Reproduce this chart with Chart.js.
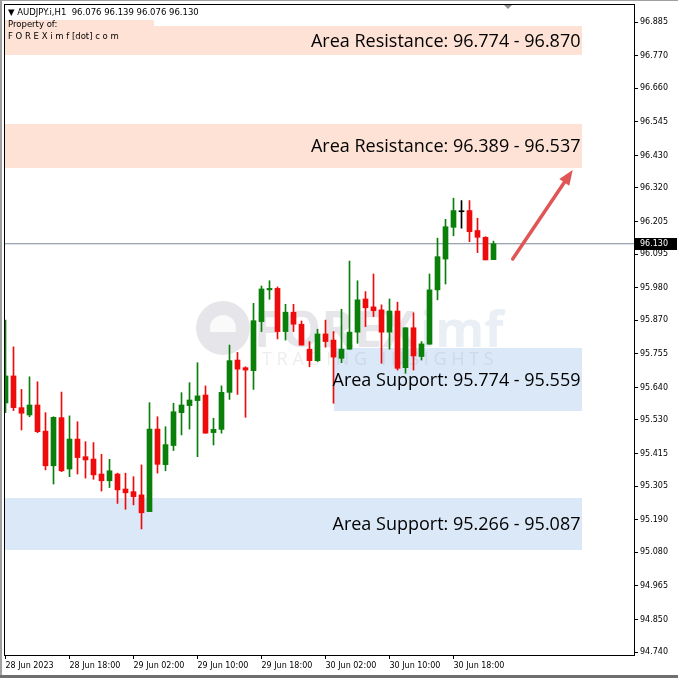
<!DOCTYPE html>
<html>
<head>
<meta charset="utf-8">
<script src="https://cdn.jsdelivr.net/npm/chart.js@4.4.0/dist/chart.umd.min.js"></script>
<style>
  html, body { margin: 0; padding: 0; background: #fff; }
</style>
</head>
<body>
<canvas id="myChart" width="678" height="678"></canvas>
<script>
// AUDJPY.i H1, 28 Jun 2023 10:00 .. 30 Jun 2023 23:00
const opens = [95.588, 95.680, 95.572, 95.547, 95.581, 95.492, 95.374, 95.538, 95.363, 95.465,
  95.405, 95.397, 95.346, 95.323, 95.346, 95.295, 95.286, 95.275, 95.218, 95.499,
  95.378, 95.443, 95.555, 95.579, 95.596, 95.615, 95.487, 95.498, 95.624, 95.734,
  95.708, 95.698, 95.865, 95.973, 95.978, 95.831, 95.897, 95.856, 95.771, 95.732,
  95.823, 95.802, 95.740, 95.771, 95.829, 95.942, 95.915, 95.905, 95.829, 95.901,
  95.708, 95.844, 95.746, 95.788, 95.973, 96.078, 96.186, 96.239, 96.243, 96.175,
  96.152, 96.076];
const highs = [95.870, 95.779, 95.634, 95.677, 95.660, 95.555, 95.541, 95.625, 95.544, 95.524,
  95.456, 95.453, 95.413, 95.396, 95.349, 95.349, 95.337, 95.377, 95.589, 95.541,
  95.507, 95.587, 95.623, 95.657, 95.725, 95.646, 95.536, 95.646, 95.785, 95.760,
  95.711, 95.927, 95.986, 96.004, 95.983, 95.924, 95.924, 95.867, 95.797, 95.839,
  95.870, 95.831, 95.907, 96.071, 96.004, 95.967, 96.027, 95.922, 95.942, 95.931,
  95.844, 95.895, 95.797, 96.027, 96.149, 96.213, 96.285, 96.277, 96.277, 96.217,
  96.154, 96.139];
const lows = [95.555, 95.562, 95.496, 95.541, 95.487, 95.360, 95.312, 95.354, 95.337, 95.346,
  95.332, 95.328, 95.288, 95.300, 95.246, 95.226, 95.241, 95.159, 95.218, 95.349,
  95.357, 95.426, 95.479, 95.499, 95.405, 95.485, 95.445, 95.485, 95.600, 95.617,
  95.539, 95.634, 95.831, 95.941, 95.806, 95.802, 95.831, 95.785, 95.711, 95.729,
  95.778, 95.587, 95.725, 95.771, 95.791, 95.848, 95.882, 95.723, 95.771, 95.700,
  95.689, 95.700, 95.734, 95.788, 95.939, 95.993, 96.157, 96.183, 96.137, 96.100,
  96.075, 96.076];
const closes = [95.680, 95.572, 95.553, 95.581, 95.490, 95.374, 95.539, 95.357, 95.465, 95.402,
  95.394, 95.343, 95.323, 95.357, 95.292, 95.282, 95.269, 95.214, 95.499, 95.379,
  95.446, 95.558, 95.581, 95.598, 95.612, 95.485, 95.498, 95.624, 95.732, 95.703,
  95.700, 95.868, 95.976, 95.978, 95.831, 95.897, 95.856, 95.785, 95.732, 95.823,
  95.797, 95.744, 95.771, 95.829, 95.939, 95.912, 95.902, 95.829, 95.901, 95.706,
  95.844, 95.748, 95.789, 95.973, 96.086, 96.188, 96.243, 96.239, 96.171, 96.152,
  96.075, 96.130];

const xTickBars = [0, 8, 16, 24, 32, 40, 48, 56];
const xTickLabels = ['28 Jun 2023', '28 Jun 18:00', '29 Jun 02:00', '29 Jun 10:00',
  '29 Jun 18:00', '30 Jun 02:00', '30 Jun 10:00', '30 Jun 18:00'];
const yTicks = [96.885, 96.770, 96.660, 96.545, 96.430, 96.320, 96.205, 96.095, 95.980, 95.870,
  95.755, 95.640, 95.530, 95.415, 95.305, 95.190, 95.080, 94.965, 94.850, 94.740];

// support / resistance areas
const zoneHigh = [96.870, 96.537, 95.774, 95.266];
const zoneLow = [96.774, 96.389, 95.559, 95.087];
const zoneStart = [-1, -1, 41, -1];
const zoneEnd = 72;
const zoneLabels = ['Area Resistance: 96.774 - 96.870', 'Area Resistance: 96.389 - 96.537',
  'Area Support: 95.774 - 95.559', 'Area Support: 95.266 - 95.087'];

const arrowFrom = [63.4, 96.078];
const arrowTo = [70.9, 96.381];

const lastPrice = closes[closes.length - 1];
const headerText = '\u25BC AUDJPY.i,H1  96.076 96.139 96.076 96.130';

const green = '#0a7f0a';
const red = '#ee0b0b';
const pink = '#fde2d5';
const blue = '#dae8f7';

const candleColors = opens.map((o, i) => closes[i] > o ? green : (closes[i] < o ? red : '#000'));

function noPadding(s) {
  s.paddingTop = 0;
  s.paddingBottom = 0;
  s.paddingLeft = 0;
  s.paddingRight = 0;
}

const chartPlugin = {
  id: 'mt4',
  beforeDatasetsDraw(chart) {
    const { ctx, chartArea: a, scales: { x, y } } = chart;
    ctx.save();
    ctx.beginPath();
    ctx.rect(a.left, a.top, a.right - a.left, a.bottom - a.top);
    ctx.clip();
    zoneHigh.forEach((hi, i) => {
      const x0 = Math.round(Math.max(a.left, x.getPixelForValue(zoneStart[i])));
      const x1 = Math.round(x.getPixelForValue(zoneEnd));
      const y0 = Math.round(y.getPixelForValue(hi));
      const y1 = Math.round(y.getPixelForValue(zoneLow[i]));
      ctx.fillStyle = i < 2 ? pink : blue;
      ctx.fillRect(x0, y0, x1 - x0, y1 - y0);
    });
    // pink band behind the "Property of" lines
    ctx.fillStyle = pink;
    ctx.fillRect(a.left, 20, 150, 8);
    // watermark
    ctx.globalAlpha = 0.22;
    ctx.fillStyle = '#8e8e9e';
    ctx.beginPath();
    ctx.arc(223, 328, 27, 0, Math.PI * 2);
    ctx.fill();
    ctx.globalAlpha = 1;
    ctx.fillStyle = 'rgba(255,255,255,0.8)';
    ctx.beginPath();
    ctx.arc(223, 328, 13, Math.PI * 0.9, Math.PI * 2.1);
    ctx.fill();
    ctx.globalAlpha = 0.22;
    ctx.fillStyle = '#8e8e9e';
    ctx.font = 'bold 50px "Open Sans"';
    ctx.textBaseline = 'alphabetic';
    ctx.textAlign = 'left';
    ctx.fillText('FOREX', 254, 347);
    ctx.fillStyle = '#9fb4d4';
    ctx.fillText('imf', 420, 347);
    ctx.globalAlpha = 0.16;
    ctx.fillStyle = '#8e8e9e';
    ctx.font = '18px "Open Sans"';
    ctx.fillText('T R A D I N G   I N S I G H T S', 262, 365);
    ctx.restore();
  },
  afterDatasetsDraw(chart) {
    const { ctx, scales: { x, y } } = chart;
    ctx.save();
    // zone labels
    ctx.fillStyle = '#000';
    ctx.font = '18px "Open Sans"';
    ctx.textAlign = 'right';
    ctx.textBaseline = 'middle';
    zoneHigh.forEach((hi, i) => {
      const xm = x.getPixelForValue(zoneEnd) - 1;
      const ym = (y.getPixelForValue(hi) + y.getPixelForValue(zoneLow[i])) / 2 + 1;
      ctx.fillText(zoneLabels[i], xm, ym);
    });
    // arrow
    const x0 = x.getPixelForValue(arrowFrom[0]), y0 = y.getPixelForValue(arrowFrom[1]);
    const x1 = x.getPixelForValue(arrowTo[0]), y1 = y.getPixelForValue(arrowTo[1]);
    const ang = Math.atan2(y1 - y0, x1 - x0);
    const c = Math.cos(ang), s = Math.sin(ang);
    ctx.strokeStyle = '#e05555';
    ctx.fillStyle = '#e05555';
    ctx.lineWidth = 3.5;
    ctx.lineCap = 'round';
    ctx.beginPath();
    ctx.moveTo(x0, y0);
    ctx.lineTo(x1 - 10 * c, y1 - 10 * s);
    ctx.stroke();
    ctx.beginPath();
    ctx.moveTo(x1, y1);
    ctx.lineTo(x1 - 15 * c + 6 * s, y1 - 15 * s - 6 * c);
    ctx.lineTo(x1 - 15 * c - 6 * s, y1 - 15 * s + 6 * c);
    ctx.closePath();
    ctx.fill();
    ctx.restore();
  },
  afterDraw(chart) {
    const { ctx, chartArea: a, scales: { y } } = chart;
    ctx.save();
    // chart frame
    ctx.strokeStyle = '#000';
    ctx.lineWidth = 1;
    ctx.strokeRect(a.left + 0.5, a.top + 0.5, a.right - a.left, a.bottom - a.top);
    // window frame
    ctx.fillStyle = '#a0a0a0';
    ctx.fillRect(0, 0, 678, 1);
    ctx.fillRect(0, 0, 2, 678);
    ctx.fillStyle = '#6f6f6f';
    ctx.fillRect(0, 675, 678, 3);
    // shift marker
    ctx.fillStyle = '#909090';
    ctx.beginPath();
    ctx.moveTo(504, a.top + 1);
    ctx.lineTo(512, a.top + 1);
    ctx.lineTo(508, a.top + 5);
    ctx.closePath();
    ctx.fill();
    // header
    ctx.fillStyle = '#000';
    ctx.font = '8.5px "DejaVu Sans"';
    ctx.textAlign = 'left';
    ctx.textBaseline = 'middle';
    ctx.fillText(headerText, 8, 13);
    ctx.fillText('Property of:', 8, 25);
    ctx.fillText('F O R E X i m f [dot] c o m', 8, 37);
    // current price label
    const py = Math.round(y.getPixelForValue(lastPrice));
    ctx.fillStyle = '#000';
    ctx.fillRect(a.right + 1, py - 6, 42, 12);
    ctx.fillStyle = '#fff';
    ctx.font = '8px "DejaVu Sans"';
    ctx.fillText(lastPrice.toFixed(3), a.right + 6, py);
    ctx.restore();
  }
};

const context = document.getElementById('myChart').getContext('2d');

const chart = new Chart(context, {
  type: 'bar',
  data: {
    datasets: [
      {
        type: 'line',
        data: [{ x: -1, y: lastPrice }, { x: 100, y: lastPrice }],
        borderColor: '#7d8896',
        borderWidth: 1,
        pointRadius: 0,
        order: 3,
      },
      {
        data: opens.map((o, i) => ({ x: i, y: [lows[i], highs[i]] })),
        backgroundColor: candleColors,
        barThickness: 1,
        grouped: false,
        order: 2,
      },
      {
        data: opens.map((o, i) => ({ x: i, y: [o, closes[i]] })),
        backgroundColor: candleColors,
        barThickness: 5,
        minBarLength: 1,
        grouped: false,
        order: 1,
      },
    ],
  },
  options: {
    responsive: false,
    animation: false,
    devicePixelRatio: 1,
    layout: { padding: { left: 4, top: 4, right: 0, bottom: 0 } },
    plugins: { legend: { display: false }, tooltip: { enabled: false } },
    scales: {
      x: {
        type: 'linear',
        min: -0.1875,
        max: 78.5625,
        offset: false,
        grid: { offset: false, drawOnChartArea: false, tickLength: 4, color: '#000' },
        border: { color: '#000' },
        afterBuildTicks: (s) => { s.ticks = xTickBars.map((v) => ({ value: v })); },
        afterFit: (s) => { s.height = 23; noPadding(s); },
        ticks: {
          autoSkip: false,
          maxRotation: 0,
          minRotation: 0,
          align: 'start',
          padding: 2,
          color: '#000',
          font: { family: 'DejaVu Sans', size: 8 },
          callback: (v, i) => xTickLabels[i],
        },
      },
      y: {
        position: 'right',
        min: 94.7298,
        max: 96.9463,
        grid: { drawOnChartArea: false, tickLength: 4, color: '#000' },
        border: { color: '#000' },
        afterBuildTicks: (s) => { s.ticks = yTicks.map((v) => ({ value: v })); },
        afterFit: (s) => { s.width = 44; noPadding(s); },
        ticks: {
          padding: 2,
          color: '#000',
          font: { family: 'DejaVu Sans', size: 8 },
          callback: (v) => v.toFixed(3),
        },
      },
    },
  },
  plugins: [chartPlugin],
});
</script>
</body>
</html>
